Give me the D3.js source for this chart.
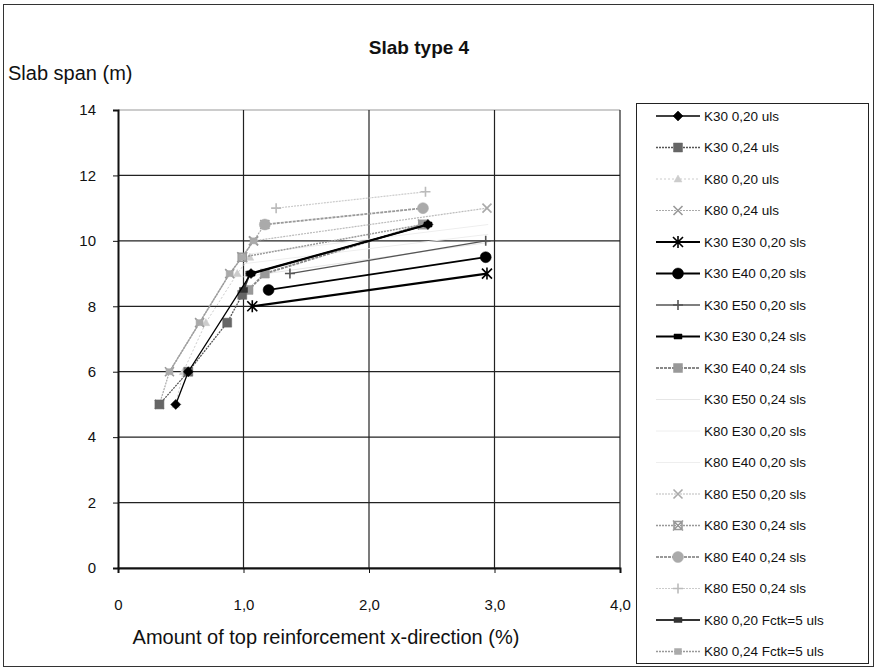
<!DOCTYPE html>
<html>
<head>
<meta charset="utf-8">
<script src="https://cdn.jsdelivr.net/npm/d3@7"></script>
<style>
  body { margin: 0; background: #fff; }
  svg text { font-family: "Liberation Sans", Arial, sans-serif; fill: #111; }
</style>
</head>
<body>
<svg id="chart"></svg>
<script>
// series names (legend order)
const seriesNames = [
  "K30 0,20 uls", "K30 0,24 uls", "K80 0,20 uls", "K80 0,24 uls",
  "K30 E30 0,20 sls", "K30 E40 0,20 sls", "K30 E50 0,20 sls",
  "K30 E30 0,24 sls", "K30 E40 0,24 sls", "K30 E50 0,24 sls",
  "K80 E30 0,20 sls", "K80 E40 0,20 sls", "K80 E50 0,20 sls",
  "K80 E30 0,24 sls", "K80 E40 0,24 sls", "K80 E50 0,24 sls",
  "K80 0,20 Fctk=5 uls", "K80 0,24 Fctk=5 uls"
];
// reinforcement amount (%) per series
const xValues = [
  [0.46, 0.56, 1.06, 2.47],
  [0.33, 0.56, 0.87, 0.99],
  [0.46, 0.52, 0.70, 0.95, 1.05],
  [0.33, 0.41, 0.65, 0.89, 0.99, 1.08, 1.17],
  [1.07, 2.94],
  [1.20, 2.93],
  [1.37, 2.93],
  [1.06, 2.47],
  [1.04, 1.17, 2.43],
  [1.00, 2.95],
  [1.00, 2.95],
  [1.05, 2.95],
  [1.08, 2.94],
  [0.99, 2.43],
  [1.17, 2.43],
  [1.26, 2.45],
  [1.00, 1.05],
  [0.41, 0.65, 0.89, 0.99, 1.08]
];
// slab span (m) per series
const yValues = [
  [5.0, 6.0, 9.0, 10.5],
  [5.0, 6.0, 7.5, 8.35],
  [5.0, 6.0, 7.5, 9.0, 9.5],
  [5.0, 6.0, 7.5, 9.0, 9.5, 10.0, 10.5],
  [8.0, 9.0],
  [8.5, 9.5],
  [9.0, 10.0],
  [9.0, 10.5],
  [8.5, 9.0, 10.5],
  [8.9, 9.95],
  [9.3, 10.2],
  [9.6, 10.5],
  [10.0, 11.0],
  [9.5, 10.5],
  [10.5, 11.0],
  [11.0, 11.5],
  [8.5, 9.0],
  [6.0, 7.5, 9.0, 9.5, 10.0]
];
const xTicks = [0, 1, 2, 3, 4];
const xTickLabels = ["0", "1,0", "2,0", "3,0", "4,0"];
const yTicks = [0, 2, 4, 6, 8, 10, 12, 14];

// look per series: stroke, width, dash, marker, marker colour
const styles = [
  { c: "#000", w: 1.3, m: "diamond", mc: "#000" },
  { c: "#555", w: 1.3, d: "2,1", m: "square", mc: "#666" },
  { c: "#ccc", w: 1, d: "2,2", m: "triangle", mc: "#ccc" },
  { c: "#aaa", w: 1.2, d: "2,1", m: "x", mc: "#999" },
  { c: "#000", w: 2.2, m: "asterisk", mc: "#000" },
  { c: "#000", w: 1.8, m: "circle", mc: "#000" },
  { c: "#555", w: 1.3, m: "plus", mc: "#555" },
  { c: "#000", w: 2.2, m: "rect", mc: "#000" },
  { c: "#888", w: 2, d: "3,1", m: "square", mc: "#999" },
  { c: "#e6e6e6", w: 1, m: "none", mc: "#eee" },
  { c: "#eee", w: 1, m: "none", mc: "#eee" },
  { c: "#eee", w: 1, m: "none", mc: "#eee" },
  { c: "#bbb", w: 1.2, d: "2,1", m: "x", mc: "#aaa" },
  { c: "#999", w: 1.5, d: "2,1", m: "xsq", mc: "#999" },
  { c: "#999", w: 1.8, d: "3,1", m: "circle", mc: "#aaa" },
  { c: "#ccc", w: 1.2, d: "2,1", m: "plus", mc: "#bbb" },
  { c: "#333", w: 2, m: "rect", mc: "#333" },
  { c: "#999", w: 1.5, d: "2,1", m: "smallsq", mc: "#aaa" }
];

const W = 877, H = 668;
const margin = { top: 110, left: 118, right: 257, bottom: 100 };
const width = W - margin.left - margin.right;
const height = H - margin.top - margin.bottom;

const svg = d3.select("#chart").attr("width", W).attr("height", H);

// outer frame
svg.append("rect").attr("x", 3.5).attr("y", 4.5).attr("width", W - 7).attr("height", H - 6)
  .attr("fill", "none").attr("stroke", "#333").attr("stroke-width", 1);

svg.append("text").attr("x", 419).attr("y", 54).attr("text-anchor", "middle")
  .style("font-weight", "bold").style("font-size", "19px").text("Slab type 4");
svg.append("text").attr("x", 8).attr("y", 80).style("font-size", "20px").text("Slab span (m)");
svg.append("text").attr("x", 326).attr("y", 644).attr("text-anchor", "middle")
  .style("font-size", "20px").text("Amount of top reinforcement x-direction (%)");

const xScale = d3.scaleLinear().domain([0, 4]).range([0, width]);
const yScale = d3.scaleLinear().domain([0, 14]).range([height, 0]);

const chart = svg.append("g").attr("transform", `translate(${margin.left},${margin.top})`);

// grid
chart.append("g").selectAll("line").data(yTicks).join("line")
  .attr("x1", 0).attr("x2", width)
  .attr("y1", d => yScale(d)).attr("y2", d => yScale(d))
  .attr("stroke", d => d === 14 ? "#999" : "#222").attr("stroke-width", 1.2);
chart.append("g").selectAll("line").data(xTicks.slice(1)).join("line")
  .attr("y1", 0).attr("y2", height)
  .attr("x1", d => xScale(d)).attr("x2", d => xScale(d))
  .attr("stroke", "#222").attr("stroke-width", 1.2);

// axes
const xAxis = chart.append("g").attr("transform", `translate(0,${height})`)
  .call(d3.axisBottom(xScale).tickValues(xTicks).tickSize(5).tickPadding(26)
    .tickFormat((d, i) => xTickLabels[i]));
const yAxis = chart.append("g")
  .call(d3.axisLeft(yScale).tickValues(yTicks).tickSize(5).tickPadding(17));
[xAxis, yAxis].forEach(a => {
  a.select(".domain").attr("stroke", "#111").attr("stroke-width", 2);
  a.selectAll(".tick line").attr("stroke", "#111");
  a.selectAll("text").style("font-size", "15px")
    .style("font-family", "'Liberation Sans', Arial, sans-serif").attr("fill", "#111");
});

function markerPath(m) {
  switch (m) {
    case "diamond": return "M0,-5L5,0L0,5L-5,0Z";
    case "square": return "M-4.5,-4.5H4.5V4.5H-4.5Z";
    case "smallsq": return "M-3.5,-3H3.5V3H-3.5Z";
    case "rect": return "M-4,-2.5H4V2.5H-4Z";
    case "triangle": return "M0,-4L4,3H-4Z";
    case "x": return "M-4.5,-4.5L4.5,4.5M-4.5,4.5L4.5,-4.5";
    case "plus": return "M-5,0H5M0,-5V5";
    case "asterisk": return "M-5,-5L5,5M-5,5L5,-5M0,-6V6";
    case "xsq": return "M-4,-4H4V4H-4ZM-5,-5L5,5M-5,5L5,-5";
    case "circle": return d3.symbol(d3.symbolCircle, 95)();
    default: return null;
  }
}
const filled = m => ["diamond", "square", "smallsq", "rect", "triangle", "circle"].includes(m);

function drawMarker(g, st, x, y) {
  const p = markerPath(st.m);
  if (!p) return;
  g.append("path").attr("d", p).attr("transform", `translate(${x},${y})`)
    .attr("fill", filled(st.m) ? st.mc : "none")
    .attr("stroke", st.mc).attr("stroke-width", filled(st.m) ? 0.5 : 1.6);
}

const line = d3.line().x(d => xScale(d[0])).y(d => yScale(d[1]));

// draw lighter series first so dark ones stay on top
const order = d3.range(seriesNames.length).sort((a, b) =>
  d3.hsl(styles[b].c).l - d3.hsl(styles[a].c).l);

order.forEach(i => {
  const st = styles[i];
  const pts = xValues[i].map((x, j) => [x, yValues[i][j]]);
  const g = chart.append("g").attr("class", "series");
  g.append("path").datum(pts).attr("d", line)
    .attr("fill", "none").attr("stroke", st.c).attr("stroke-width", st.w)
    .attr("stroke-dasharray", st.d || null);
  pts.forEach(p => drawMarker(g, st, xScale(p[0]), yScale(p[1])));
});

// legend
const lg = svg.append("g").attr("transform", "translate(636,103)");
lg.append("rect").attr("x", 0.5).attr("y", 0.5).attr("width", 232).attr("height", 560)
  .attr("fill", "#fff").attr("stroke", "#222");
seriesNames.forEach((name, i) => {
  const st = styles[i];
  const y = 13 + i * 31.5;
  lg.append("line").attr("x1", 20).attr("x2", 64).attr("y1", y).attr("y2", y)
    .attr("stroke", st.c).attr("stroke-width", st.w).attr("stroke-dasharray", st.d || null);
  drawMarker(lg, st, 42, y);
  lg.append("text").attr("x", 68).attr("y", y + 4.5).style("font-size", "13.5px").text(name);
});
</script>
</body>
</html>
